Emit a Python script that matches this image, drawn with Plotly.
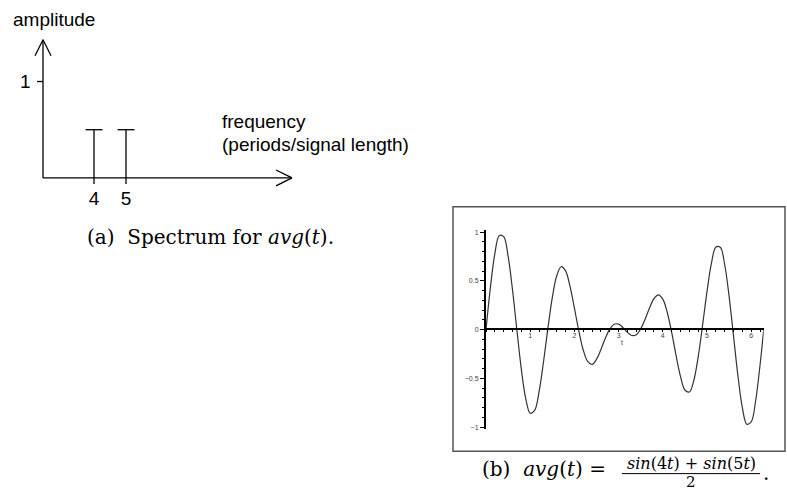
import plotly.graph_objects as go

W, H = 787, 490

# ---- data: spectrum (panel a)
freqs = [4, 5]
amps = [0.5, 0.5]
freq_labels = ["4", "5"]
amp_tick = [1]
amp_tick_labels = ["1"]

# ---- data: avg(t) samples (panel b)
t_vals = [0.0, 0.1, 0.2, 0.3, 0.4, 0.5, 0.6, 0.7, 0.8, 0.9,
          1.0, 1.1, 1.2, 1.3, 1.4, 1.5, 1.6, 1.7, 1.8, 1.9,
          2.0, 2.1, 2.2, 2.3, 2.4, 2.5, 2.6, 2.7, 2.8, 2.9,
          3.0, 3.1, 3.2, 3.3, 3.4, 3.5, 3.6, 3.7, 3.8, 3.9,
          4.0, 4.1, 4.2, 4.3, 4.4, 4.5, 4.6, 4.7, 4.8, 4.9,
          5.0, 5.1, 5.2, 5.3, 5.4, 5.5, 5.6, 5.7, 5.8, 5.9,
          6.0, 6.1, 6.2, 6.283]
avg_vals = [0.0, 0.434, 0.780, 0.965, 0.955, 0.754, 0.408, -0.008, -0.408, -0.710,
            -0.858, -0.829, -0.638, -0.334, 0.013, 0.329, 0.553, 0.646, 0.603, 0.446,
            0.223, -0.013, -0.208, -0.326, -0.356, -0.305, -0.204, -0.089, 0.006, 0.056,
            0.057, 0.021, -0.028, -0.060, -0.051, 0.008, 0.107, 0.223, 0.318, 0.357,
            0.313, 0.179, -0.026, -0.263, -0.479, -0.619, -0.640, -0.524, -0.281, 0.045,
            0.390, 0.680, 0.846, 0.845, 0.669, 0.345, -0.063, -0.473, -0.799, -0.970,
            -0.947, -0.732, -0.365, 0.0]
x_ticks = [1, 2, 3, 4, 5, 6]
x_tick_labels = ["1", "2", "3", "4", "5", "6"]
y_ticks = [-1, -0.5, 0, 0.5, 1]
y_tick_labels = ["\u22121", "\u22120.5", "0", "0.5", "1"]


def px(x):
    return x / W


def py(y):
    return 1 - y / H


SANS = "Liberation Sans, Arial, sans-serif"
SERIF = "DejaVu Serif, serif"

fig = go.Figure()

# ---------------- panel (a) ----------------
fx_per = 32.0   # px per frequency unit
fy_per = 97.0   # px per amplitude unit
x2_min = 4 - 94 / fx_per
y2_max = 177 / fy_per
cap = 8.5 / fx_per
ext = 6 / fy_per

sx, sy = [], []
for f, a in zip(freqs, amps):
    sx += [f, f, None, f - cap, f + cap, None]
    sy += [-ext, a, None, a, a, None]
fig.add_trace(go.Scatter(x=sx, y=sy, mode="lines", line=dict(color="black", width=1.3),
                         xaxis="x2", yaxis="y2", hoverinfo="skip", showlegend=False))
fig.add_trace(go.Scatter(x=freqs, y=[-22 / fy_per] * len(freqs), mode="text", text=freq_labels,
                         textfont=dict(family=SANS, size=19, color="black"),
                         xaxis="x2", yaxis="y2", hoverinfo="skip", showlegend=False))

shapes = []
ln = dict(color="black", width=1.3)
shapes.append(dict(type="line", xref="paper", yref="paper", x0=px(43), y0=py(177), x1=px(43), y1=py(38), line=ln))
shapes.append(dict(type="line", xref="paper", yref="paper", x0=px(35), y0=py(54), x1=px(43), y1=py(38), line=ln))
shapes.append(dict(type="line", xref="paper", yref="paper", x0=px(51), y0=py(54), x1=px(43), y1=py(38), line=ln))
shapes.append(dict(type="line", xref="paper", yref="paper", x0=px(43), y0=py(177), x1=px(292), y1=py(177), line=ln))
shapes.append(dict(type="line", xref="paper", yref="paper", x0=px(276), y0=py(169), x1=px(292), y1=py(177), line=ln))
shapes.append(dict(type="line", xref="paper", yref="paper", x0=px(276), y0=py(185), x1=px(292), y1=py(177), line=ln))
for v in amp_tick:
    shapes.append(dict(type="line", xref="paper", yref="y2", x0=px(37), y0=v, x1=px(43), y1=v, line=ln))

annotations = []
for v, lab in zip(amp_tick, amp_tick_labels):
    annotations.append(dict(x=px(33), y=v, xref="paper", yref="y2", text=lab, showarrow=False,
                            xanchor="right", yanchor="middle",
                            font=dict(family=SANS, size=19, color="black")))
annotations.append(dict(x=px(11), y=py(18), xref="paper", yref="paper", text="amplitude",
                        showarrow=False, xanchor="left", yanchor="middle",
                        font=dict(family=SANS, size=19, color="black")))
annotations.append(dict(x=px(220), y=py(120), xref="paper", yref="paper", text="frequency",
                        showarrow=False, xanchor="left", yanchor="middle",
                        font=dict(family=SANS, size=19, color="black")))
annotations.append(dict(x=px(220), y=py(143), xref="paper", yref="paper",
                        text="(periods/signal length)",
                        showarrow=False, xanchor="left", yanchor="middle",
                        font=dict(family=SANS, size=19, color="black")))
annotations.append(dict(x=px(85), y=py(236), xref="paper", yref="paper",
                        text="(a)  Spectrum for <i>avg</i>(<i>t</i>).",
                        showarrow=False, xanchor="left", yanchor="middle",
                        font=dict(family=SERIF, size=20, color="black")))

# ---------------- panel (b) ----------------
fig.add_trace(go.Scatter(x=t_vals, y=avg_vals, mode="lines",
                         line=dict(color="#333333", width=1.2, shape="spline"),
                         xaxis="x", yaxis="y", hoverinfo="skip", showlegend=False))

shapes.append(dict(type="rect", xref="paper", yref="paper", x0=px(453), y0=py(452), x1=px(785), y1=py(206),
                   line=dict(color="#555555", width=1.5)))

annotations.append(dict(x=px(625), y=py(348), xref="paper", yref="paper", text="t",
                        showarrow=False, font=dict(family=SANS, size=7, color="#444")))

# caption (b)
annotations.append(dict(x=px(480), y=py(470), xref="paper", yref="paper",
                        text="(b)  <i>avg</i>(<i>t</i>) =",
                        showarrow=False, xanchor="left", yanchor="middle",
                        font=dict(family=SERIF, size=20, color="black")))
annotations.append(dict(x=px(691), y=py(464), xref="paper", yref="paper",
                        text="<i>sin</i>(4<i>t</i>) + <i>sin</i>(5<i>t</i>)",
                        showarrow=False, xanchor="center", yanchor="middle",
                        font=dict(family=SERIF, size=16, color="black")))
annotations.append(dict(x=px(691), y=py(483), xref="paper", yref="paper", text="2",
                        showarrow=False, xanchor="center", yanchor="middle",
                        font=dict(family=SERIF, size=15, color="black")))
annotations.append(dict(x=px(761), y=py(474), xref="paper", yref="paper", text=".",
                        showarrow=False, xanchor="left", yanchor="middle",
                        font=dict(family=SERIF, size=20, color="black")))
shapes.append(dict(type="line", xref="paper", yref="paper", x0=px(622), y0=py(474.5), x1=px(760), y1=py(474.5),
                   line=dict(color="black", width=1)))

x_left, x_right = 486, 763.7
y_top_px, y_bot_px = 229.7, 429.7
zero_px = 329.3

fig.update_layout(
    width=W, height=H, autosize=False,
    margin=dict(l=0, r=0, t=0, b=0),
    paper_bgcolor="white", plot_bgcolor="rgba(0,0,0,0)",
    showlegend=False,
    shapes=shapes, annotations=annotations,
    xaxis=dict(domain=[px(x_left), px(x_right)], range=[0, 6.2832], anchor="free", position=py(zero_px),
               showline=True, linecolor="black", linewidth=1.5, showgrid=False, zeroline=False,
               ticks="outside", ticklen=2, tickwidth=1, tickcolor="black",
               tickvals=x_ticks, ticktext=x_tick_labels, ticklabelstandoff=-2,
               tickfont=dict(family=SANS, size=7, color="#444"),
               minor=dict(dtick=0.2, ticks="outside", ticklen=2, tickcolor="black", showgrid=False)),
    yaxis=dict(domain=[py(y_bot_px), py(y_top_px)], range=[-1.02, 1.02], anchor="x",
               showline=True, linecolor="black", linewidth=2, showgrid=False, zeroline=False,
               ticks="outside", ticklen=4, tickwidth=1, tickcolor="black",
               tickvals=y_ticks, ticktext=y_tick_labels,
               tickfont=dict(family=SANS, size=7, color="#444"),
               minor=dict(dtick=0.1, ticks="outside", ticklen=2, tickcolor="black", showgrid=False)),
    xaxis2=dict(domain=[0, 1], range=[x2_min, x2_min + W / fx_per], anchor="y2", visible=False),
    yaxis2=dict(domain=[0, 1], range=[-(H - 177) / fy_per, y2_max], anchor="x2", visible=False),
)

fig.write_html("out.html", config={"displayModeBar": False},
               post_script="document.body.style.margin='0px';")
